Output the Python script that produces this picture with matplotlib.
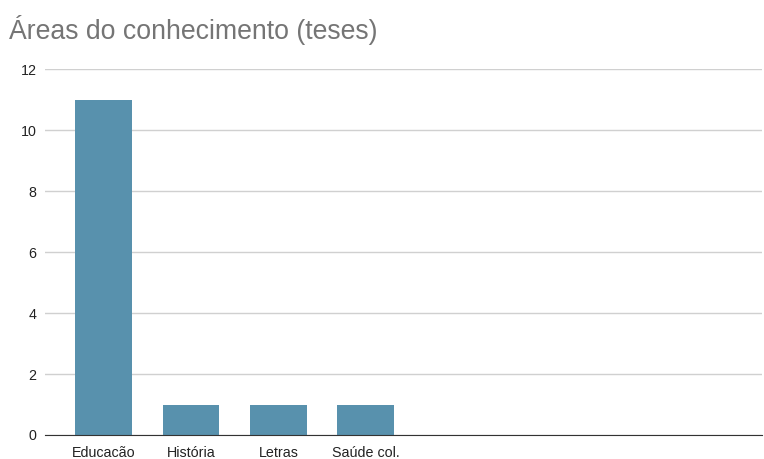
import matplotlib.pyplot as plt

plt.rcParams['font.family'] = ['Liberation Sans', 'DejaVu Sans']

# Número de teses por área do conhecimento
areas = ['Educacão', 'História', 'Letras', 'Saúde col.']
teses = [11, 1, 1, 1]
y_ticks = [0, 2, 4, 6, 8, 10, 12]

fig = plt.figure(figsize=(7.64, 4.59), dpi=100)
ax = fig.add_axes([0.0589, 0.0523, 0.9385, 0.797])

ax.bar(range(len(areas)), teses, width=0.65, color='#5891ad', zorder=3)

ax.set_xlim(-0.669, 7.53)
ax.set_ylim(0, 12)
ax.set_yticks(y_ticks)
ax.set_xticks(range(len(areas)))
ax.set_xticklabels(areas)
ax.grid(axis='y', color='#d0d0d0', linewidth=1, zorder=0)
ax.tick_params(length=0, labelsize=10.3, colors='#222222', pad=6)
ax.tick_params(axis='x', pad=8)

for side in ['top', 'right', 'left']:
    ax.spines[side].set_visible(False)
ax.spines['bottom'].set_color('#333333')
ax.spines['bottom'].set_zorder(4)

fig.text(0.012, 0.935, 'Áreas do conhecimento (teses)', fontsize=19.2,
         color='#757575', ha='left', va='center')

fig.savefig('out.png', dpi=100)
